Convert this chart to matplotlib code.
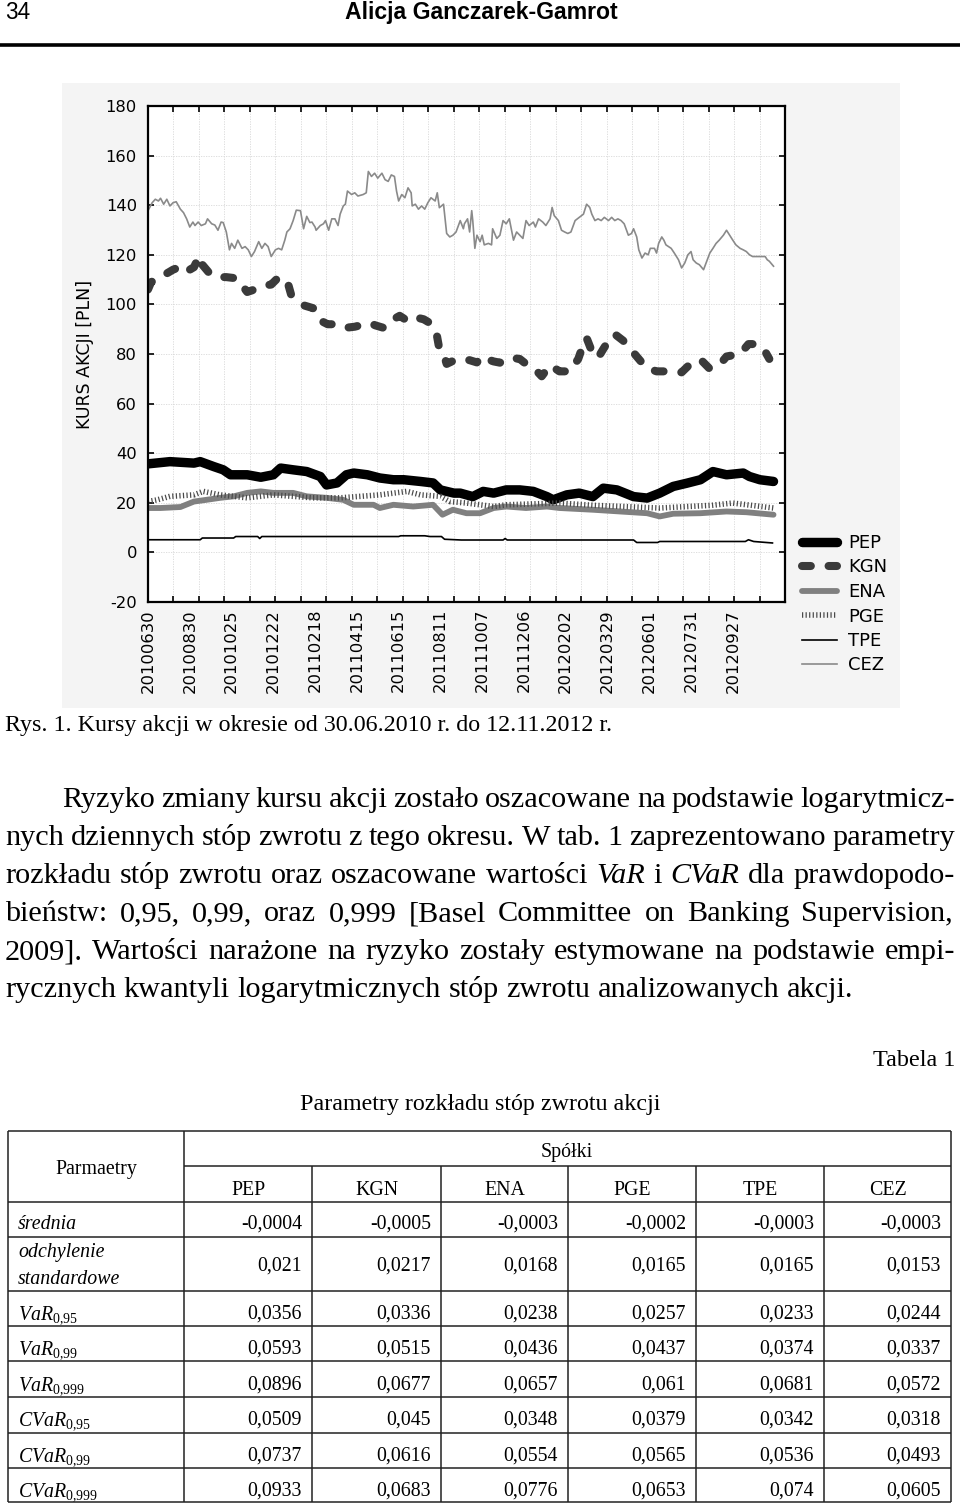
import numpy as np
import matplotlib
matplotlib.use("Agg")
import matplotlib.pyplot as plt
from matplotlib.patches import Rectangle

plt.rcParams['mathtext.fontset'] = 'custom'
plt.rcParams['mathtext.rm'] = 'Liberation Serif'
plt.rcParams['mathtext.it'] = 'Liberation Serif:italic'

# ---------------- data (trading-day number, price in PLN) ----------------
pep_day = [0, 21, 44, 50, 63, 72, 79, 95, 108, 120, 127, 139, 152, 165, 171, 181, 190, 197, 210, 222,
           235, 245, 261, 273, 280, 293, 299, 311, 321, 331, 343, 356, 369, 382, 388, 401, 413, 426,
           436, 449, 465, 478, 490, 503, 516, 529, 541, 554, 570, 576, 586, 599]
pep_val = [35.7, 36.6, 36.0, 36.6, 34.6, 33.3, 31.3, 31.3, 30.3, 31.3, 34.0, 33.3, 32.6, 30.6, 27.2, 28.0,
           31.3, 32.0, 31.3, 30.0, 29.3, 29.3, 28.6, 28.0, 25.2, 23.9, 23.9, 22.5, 24.6, 23.9, 25.2, 25.2,
           24.6, 22.5, 21.2, 23.2, 23.9, 22.5, 25.9, 25.2, 22.5, 21.9, 23.9, 26.6, 27.9, 29.3, 32.6, 31.3,
           32.0, 30.6, 29.3, 28.6]

kgn_day = [0, 3, 8, 14, 24, 30, 36, 44, 49, 52, 60, 66, 75, 85, 95, 102, 110, 118, 124, 133, 137, 143,
           150, 158, 165, 172, 180, 188, 198, 212, 218, 226, 235, 241, 248, 254, 264, 270, 276, 279, 283,
           286, 291, 299, 308, 315, 319, 324, 331, 337, 347, 356, 362, 369, 377, 385, 394, 404, 412, 417,
           420, 426, 431, 436, 439, 447, 455, 466, 477, 487, 500, 511, 523, 531, 538, 550, 554, 567, 575,
           584, 591, 595]
kgn_val = [106, 109, 110, 111.5, 114, 115, 113, 115, 119.5, 116, 112, 111, 111, 110.5, 105, 106, 107.5,
           108, 110.5, 110, 104, 102, 99.5, 98.5, 93.5, 92, 92, 90.5, 91, 92.5, 91.5, 90.5, 94, 95.4,
           93.5, 95, 94, 92.5, 89, 82, 80, 76, 77, 78, 77.5, 76.6, 79, 78, 77, 76.5, 78.5, 78, 76, 74.6,
           71, 75.5, 73, 73, 78, 84, 86.5, 80, 78.5, 82, 84, 88, 85.4, 80, 74.5, 73, 73, 72.6, 77.5, 77,
           74, 77, 79, 80, 84, 84, 81, 78]

ena_day = [0, 12, 31, 44, 56, 69, 82, 95, 108, 120, 139, 152, 171, 187, 197, 216, 222, 235, 254, 273,
           282, 292, 305, 318, 331, 343, 362, 382, 394, 426, 452, 478, 490, 503, 529, 554, 573, 599]
ena_val = [17.9, 17.9, 18.3, 20.5, 21.2, 22.0, 22.6, 24.0, 24.6, 24.0, 24.0, 22.6, 22.0, 21.2, 19.2,
           19.2, 17.9, 19.2, 18.5, 19.2, 15.2, 17.2, 15.8, 15.8, 17.9, 18.5, 17.9, 18.5, 17.9, 17.2, 16.5,
           15.8, 14.5, 15.6, 15.8, 16.5, 16.2, 15.2]

pge_day = [0, 9, 21, 44, 53, 69, 95, 120, 139, 158, 184, 203, 222, 248, 261, 280, 289, 305, 318, 331,
           343, 394, 426, 490, 540, 560, 599]
pge_val = [20.5, 21.2, 22.6, 23.2, 24.6, 23.2, 22.0, 23.2, 22.6, 22.0, 22.0, 22.6, 23.2, 24.6, 23.2,
           22.6, 20.5, 19.9, 19.2, 18.5, 19.2, 19.9, 19.0, 17.9, 19.0, 19.9, 17.9]

tpe_day = [0, 50, 52, 82, 84, 105, 107, 109, 240, 242, 265, 270, 281, 284, 300, 340, 342, 344, 465,
           468, 488, 490, 572, 575, 580, 598]
tpe_val = [5.1, 5.1, 5.8, 5.8, 6.4, 6.4, 5.6, 6.4, 6.4, 6.7, 6.7, 6.4, 6.4, 5.3, 5.0, 5.0, 5.6, 5.0, 5.0,
           4.0, 4.0, 4.4, 4.4, 5.1, 4.4, 3.8]

cez_day = [0, 4, 7, 10, 12, 15, 18, 21, 24, 27, 31, 34, 37, 40, 43, 45, 48, 51, 55, 57, 61, 64, 67, 70,
           72, 75, 78, 80, 83, 86, 90, 93, 96, 99, 102, 106, 109, 112, 115, 118, 122, 125, 128, 131, 133,
           136, 139, 142, 146, 149, 152, 155, 157, 160, 161, 165, 168, 170, 173, 176, 179, 182, 184, 187,
           189, 191, 195, 198, 201, 206, 209, 211, 214, 217, 220, 224, 227, 230, 233, 236, 238, 240, 243,
           246, 249, 252, 253, 256, 259, 262, 265, 268, 271, 275, 277, 279, 283, 286, 289, 292, 295, 299,
           302, 303, 306, 308, 310, 311, 313, 315, 318, 320, 322, 326, 329, 330, 334, 337, 340, 343, 346,
           350, 353, 356, 359, 362, 365, 369, 371, 374, 378, 381, 385, 387, 389, 393, 396, 399, 402, 405,
           409, 413, 417, 420, 423, 425, 428, 431, 434, 437, 441, 444, 447, 450, 453, 456, 460, 463, 465,
           468, 470, 473, 476, 479, 481, 485, 487, 489, 492, 494, 496, 501, 504, 508, 511, 514, 517, 520,
           522, 525, 528, 532, 535, 538, 541, 544, 547, 551, 554, 557, 560, 563, 567, 570, 573, 576, 579,
           583, 586, 591, 593, 595, 599]
cez_val = [137.8, 141, 142.4, 141.7, 142.8, 140.4, 142.4, 139.7, 141, 141.4, 138.4, 137, 134.5, 131.2,
           133.2, 131.8, 133.2, 131.8, 132.5, 134.5, 132.5, 132, 129.9, 133.2, 133, 129.2, 122, 124.6,
           122.6, 125.9, 122.6, 123.3, 122, 119.3, 121.3, 125.3, 122.6, 124.6, 123.3, 119.3, 122, 122.6,
           122, 125.9, 129.2, 130.5, 133.8, 138, 137.8, 130.5, 135.5, 133, 133.2, 131.2, 129.9, 131.8,
           132.5, 133.8, 129.9, 134.5, 134.5, 131.8, 136.4, 139.7, 140.4, 145.7, 144.3, 145, 143.7, 144.3,
           145, 153.6, 151.6, 152.9, 150.9, 152.9, 150.3, 149.6, 152.2, 151.6, 145.7, 141.7, 144.3, 143,
           147, 145, 139.7, 140.4, 138.4, 139.7, 138.4, 141, 143, 141.7, 145, 139, 140.4, 128.6, 127.2,
           127.9, 129.2, 133.8, 130.5, 132.5, 134.5, 129.2, 137.8, 133.8, 122.6, 127.9, 125.3, 127.9, 124,
           124.6, 124, 130.5, 126.6, 127.9, 133.8, 132.5, 134.5, 125.9, 129.2, 127.9, 126.6, 133.8, 131.8,
           133.2, 131.2, 134.5, 133.2, 131.8, 134.5, 139.1, 135.8, 133.8, 129.9, 129.2, 128.6, 129.2, 133.8,
           135.1, 136.4, 140.4, 139.1, 136.4, 133.8, 134.5, 133.8, 135.1, 133.8, 135.1, 133.8, 134.5,
           133.8, 132.5, 127.9, 128.6, 130.5, 127.2, 122, 118.7, 120.7, 120, 122.6, 122.6, 120.7, 124.6,
           127.2, 125.9, 124, 122.6, 120.7, 118, 114.7, 116.7, 120, 121.3, 118, 116.7, 116, 114, 117.4,
           120.7, 122.6, 124.6, 125.9, 127.9, 129.9, 127.9, 125.9, 124, 122.6, 122, 121.3, 120, 119.3,
           119.3, 119.3, 119.3, 118, 117.4, 115.4]

series_names = ['PEP', 'KGN', 'ENA', 'PGE', 'TPE', 'CEZ']
date_labels = ['20100630', '20100830', '20101025', '20101222', '20110218', '20110415', '20110615',
               '20110811', '20111007', '20111206', '20120202', '20120329', '20120601', '20120731',
               '20120927']
label_step = 40          # trading days between date labels
y_ticks = [180, 160, 140, 120, 100, 80, 60, 40, 20, 0, -20]

# table data
tab_cols = ['PEP', 'KGN', 'ENA', 'PGE', 'TPE', 'CEZ']
srednia = [-0.0004, -0.0005, -0.0003, -0.0002, -0.0003, -0.0003]
odchylenie = [0.021, 0.0217, 0.0168, 0.0165, 0.0165, 0.0153]
var95 = [0.0356, 0.0336, 0.0238, 0.0257, 0.0233, 0.0244]
var99 = [0.0593, 0.0515, 0.0436, 0.0437, 0.0374, 0.0337]
var999 = [0.0896, 0.0677, 0.0657, 0.061, 0.0681, 0.0572]
cvar95 = [0.0509, 0.045, 0.0348, 0.0379, 0.0342, 0.0318]
cvar99 = [0.0737, 0.0616, 0.0554, 0.0565, 0.0536, 0.0493]
cvar999 = [0.0933, 0.0683, 0.0776, 0.0653, 0.074, 0.0605]

# ---------------- figure ----------------
W, H = 960, 1506
fig = plt.figure(figsize=(W / 100, H / 100), dpi=100)
page = fig.add_axes([0, 0, 1, 1], zorder=0)
page.set_xlim(0, W)
page.set_ylim(H, 0)
page.axis('off')
R = fig.canvas.get_renderer()

SERIF = 'Liberation Serif'


def fit_text(x, y, s, width, **kw):
    t = page.text(x, y, s, fontsize=12, **kw)
    w = t.get_window_extent(R).width
    t.set_fontsize(12 * width / w)
    return t


# header
fit_text(5, 19, '34', 25, family=['Liberation Sans Narrow', 'Liberation Sans'], va='baseline')
fit_text(481, 19, 'Alicja Ganczarek-Gamrot', 272, family=['Liberation Sans Narrow', 'Liberation Sans'],
         weight='bold', ha='center', va='baseline')
page.axhline(45, color='black', lw=2.6)

# chart panel
page.add_patch(Rectangle((62, 83), 838, 625, facecolor='#f4f4f4', edgecolor='none'))

ax = fig.add_axes([148 / W, 1 - 602 / H, 637 / W, 496 / H], zorder=1)
ax.set_facecolor('white')

styles = {
    'PEP': dict(color='black', lw=6.8, solid_capstyle='round', solid_joinstyle='round'),
    'KGN': dict(color='#3a3a3a', lw=5.8, dashes=(1.1, 2.2), dash_capstyle='round', dash_joinstyle='round'),
    'ENA': dict(color='#808080', lw=4.2, solid_capstyle='round'),
    'PGE': dict(color='#4a4a4a', lw=4.0, dashes=(0.22, 0.42), dash_capstyle='butt'),
    'TPE': dict(color='black', lw=1.2),
    'CEZ': dict(color='#8a8a8a', lw=1.2),
}
data = {'PEP': (pep_day, pep_val), 'KGN': (kgn_day, kgn_val), 'ENA': (ena_day, ena_val),
        'PGE': (pge_day, pge_val), 'TPE': (tpe_day, tpe_val), 'CEZ': (cez_day, cez_val)}
handles = []
for name in series_names:
    d, v = data[name]
    h, = ax.plot(d, v, label=name, **styles[name])
    handles.append(h)

xmax = 610
ax.set_xlim(0, xmax)
ax.set_ylim(-20, 180)
ax.set_xticks(np.arange(len(date_labels)) * label_step)
ax.set_xticklabels(date_labels, rotation=90, fontsize=11.8, color='black')
ax.set_xticks(np.linspace(0, xmax, 26), minor=True)
ax.tick_params(axis='x', which='major', length=0, pad=5)
ax.tick_params(axis='x', which='minor', direction='in', length=4, width=1.2, top=True, bottom=True)
ax.set_yticks(y_ticks)
ax.set_yticklabels([str(t) for t in y_ticks], fontsize=11.8)
ax.tick_params(axis='y', which='major', direction='in', length=4, width=1.2, left=True, right=True, pad=8)
ax.grid(True, axis='x', which='minor', color='#d8d8d8', lw=0.6, ls=(0, (1.5, 1.5)))
ax.grid(True, axis='y', which='major', color='#d8d8d8', lw=0.6, ls=(0, (1.5, 1.5)))
ax.set_axisbelow(True)
for sp in ax.spines.values():
    sp.set_linewidth(1.6)

page.text(85, 354, 'KURS AKCJI [PLN]', rotation=90, ha='center', va='center', fontsize=12.5)

ax.legend(handles, series_names, loc='upper left', bbox_to_anchor=(802 / W, 1 - 534 / H),
          bbox_transform=fig.transFigure, frameon=False, fontsize=13, handlelength=1.95,
          labelspacing=0.36, handletextpad=0.6, borderaxespad=0, borderpad=0)

# caption
fit_text(5, 731, 'Rys. 1. Kursy akcji w okresie od 30.06.2010 r. do 12.11.2012 r.', 608,
         family=SERIF, va='baseline')

# paragraph
lines = [
    (62, 955, 807, 'Ryzyko zmiany kursu akcji zostało oszacowane na podstawie logarytmicz-', True),
    (5, 955, 845, 'nych dziennych stóp zwrotu z tego okresu. W tab. 1 zaprezentowano parametry', True),
    (5, 955, 883, 'rozkładu stóp zwrotu oraz oszacowane wartości *VaR* i *CVaR* dla prawdopodo-', True),
    (5, 953, 921, 'bieństw: 0,95, 0,99, oraz 0,999 [Basel Committee on Banking Supervision,', True),
    (5, 955, 959, '2009]. Wartości narażone na ryzyko zostały estymowane na podstawie empi-', True),
    (5, 852, 997, 'rycznych kwantyli logarytmicznych stóp zwrotu analizowanych akcji.', False),
]
probe = page.text(0, 0, lines[-1][3], fontsize=12, family=SERIF)
pfs = 12 * (lines[-1][1] - lines[-1][0]) / probe.get_window_extent(R).width
probe.remove()

for x0, x1, yb, s, just in lines:
    words = s.split(' ')
    ts = []
    for w in words:
        ital = w.startswith('*') and w.endswith('*')
        ts.append(page.text(0, yb, w.strip('*'), fontsize=pfs, family=SERIF,
                            style='italic' if ital else 'normal', va='baseline'))
    ws = [t.get_window_extent(R).width for t in ts]
    if just:
        gap = (x1 - x0 - sum(ws)) / (len(ws) - 1)
    else:
        sp = page.text(0, 0, 'a b', fontsize=pfs, family=SERIF)
        sa = page.text(0, 0, 'ab', fontsize=pfs, family=SERIF)
        gap = sp.get_window_extent(R).width - sa.get_window_extent(R).width
        sp.remove(); sa.remove()
    x = x0
    for t, w in zip(ts, ws):
        t.set_x(x)
        x += w + gap

# table titles
fit_text(955, 1066, 'Tabela 1', 82, family=SERIF, ha='right', va='baseline')
fit_text(480, 1110, 'Parametry rozkładu stóp zwrotu akcji', 360, family=SERIF, ha='center', va='baseline')

# table grid
col_edges = [8, 184, 312, 441, 568, 696, 824, 951]
row_lines = [1131, 1201.5, 1237, 1291, 1326, 1361, 1397, 1433, 1468, 1502]
lc = '#222222'
lw = 1.1
for y in row_lines:
    page.hlines(y, col_edges[0], col_edges[-1], color=lc, lw=lw)
page.hlines(1166, col_edges[1], col_edges[-1], color=lc, lw=lw)
for x in (col_edges[0], col_edges[1], col_edges[-1]):
    page.vlines(x, row_lines[0], row_lines[-1], color=lc, lw=lw)
for x in col_edges[2:-1]:
    page.vlines(x, 1166, row_lines[-1], color=lc, lw=lw)

TFS = 14.3
page.text(96, 1174, 'Parmaetry', family=SERIF, fontsize=TFS, ha='center', va='baseline')
page.text(567, 1157, 'Spółki', family=SERIF, fontsize=TFS, ha='center', va='baseline')
for i, c in enumerate(tab_cols):
    page.text((col_edges[i + 1] + col_edges[i + 2]) / 2, 1195, c, family=SERIF, fontsize=TFS,
              ha='center', va='baseline')


def fmt(v):
    return f'{v:.4f}'.rstrip('0').replace('.', ',')


rows = [srednia, odchylenie, var95, var99, var999, cvar95, cvar99, cvar999]
row_base = [1229, 1271, 1319, 1354, 1390, 1425, 1461, 1496]
for vals, yb in zip(rows, row_base):
    for i, v in enumerate(vals):
        page.text(col_edges[i + 2] - 10, yb, fmt(v), family=SERIF, fontsize=TFS, ha='right', va='baseline')

page.text(18, 1229, 'średnia', family=SERIF, style='italic', fontsize=TFS, va='baseline')
page.text(18, 1257, 'odchylenie', family=SERIF, style='italic', fontsize=TFS, va='baseline')
page.text(18, 1284, 'standardowe', family=SERIF, style='italic', fontsize=TFS, va='baseline')
row_labels = [r'$\mathit{VaR}_{\mathit{0{,}95}}$', r'$\mathit{VaR}_{\mathit{0{,}99}}$',
              r'$\mathit{VaR}_{\mathit{0{,}999}}$', r'$\mathit{CVaR}_{\mathit{0{,}95}}$',
              r'$\mathit{CVaR}_{\mathit{0{,}99}}$', r'$\mathit{CVaR}_{\mathit{0{,}999}}$']
for lab, yb in zip(row_labels, row_base[2:]):
    page.text(18, yb, lab, fontsize=TFS, va='baseline')

fig.savefig('out.png', dpi=100)
